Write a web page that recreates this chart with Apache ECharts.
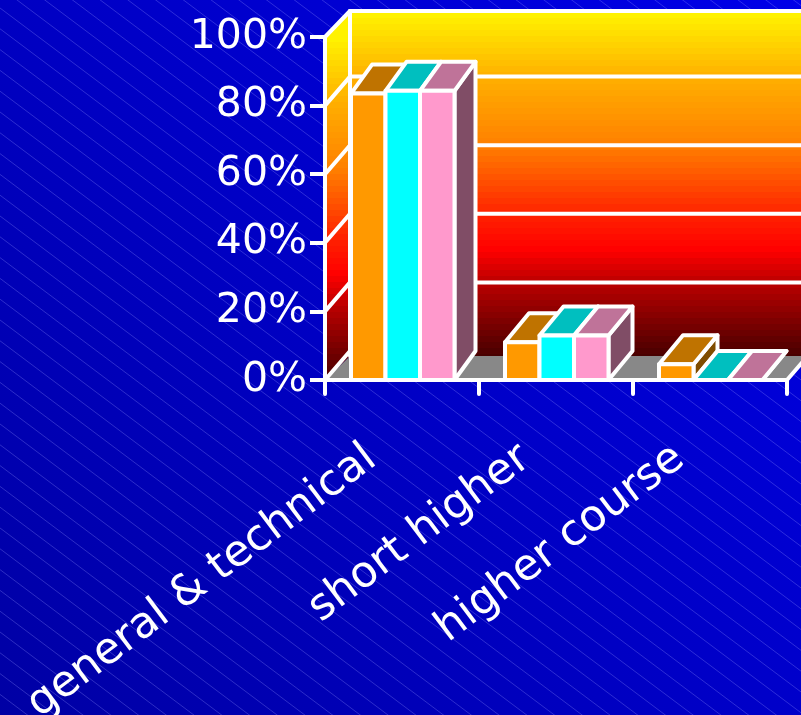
<!DOCTYPE html>
<html><head><meta charset="utf-8">
<style>html,body{margin:0;padding:0;background:#0000c0}#c{width:801px;height:715px}</style>
<script src="https://cdn.jsdelivr.net/npm/echarts@6/dist/echarts.min.js"></script>
</head><body><div id="c"></div>
<script>
const categories = ['general & technical', 'short higher', 'higher course'];
const tickLabels = ['0%', '20%', '40%', '60%', '80%', '100%'];
const gridValues = [20, 40, 60, 80];
const orangeValues = [83.5, 11, 4.6];
const cyanValues = [84.3, 13, 0];
const pinkValues = [84.3, 13, 0];

const WHITE = '#ffffff';
const LW = 4;
const palette = [
  {front:'#ff9900', top:'#bf7300', side:'#804d00'},
  {front:'#00ffff', top:'#00bfbf', side:'#008080'},
  {front:'#ff99cc', top:'#bf7399', side:'#804d66'}
];
const barDepthX = [21, 24, 24];
const barDepthY = 29, wallDX = 25, wallDY = 24, wallTopDY = 26, gridDY = 29;
const barW = 34.5, groupOff = 26;

// wall gradient, banded like the original
const wallKeys = [[12,[255,245,0]],[77,[255,176,0]],[145,[255,128,0]],[216,[255,32,0]],[250,[255,0,0]],[284,[184,0,0]],[356,[72,0,0]]];
function wallGradient(shift){
  const stops=[]; const y0=12,y1=356,band=6;
  const col=y=>{for(let i=1;i<wallKeys.length;i++){if(y<=wallKeys[i][0]){const a=wallKeys[i-1],b=wallKeys[i],t=(y-a[0])/(b[0]-a[0]);return 'rgb('+a[1].map((v,k)=>Math.round(v+(b[1][k]-v)*t)).join(',')+')';}}return 'rgb(72,0,0)';};
  for(let y=y0;y<y1;y+=band){const c=col(y+band/2);stops.push({offset:(y-y0)/(y1-y0),color:c});stops.push({offset:Math.min(1,(y+band-y0)/(y1-y0)),color:c});}
  return {type:'linear',global:true,x:0,y:y0+shift,x2:0,y2:y1+shift,colorStops:stops};
}
const BACK_WALL = wallGradient(0);
const LEFT_WALL = wallGradient(24);

function poly(points, fill, z2){
  return {type:'polygon',shape:{points},z2:z2||0,style:{fill:fill,stroke:WHITE,lineWidth:LW,lineJoin:'round'}};
}
function seg(a,b,z2){
  return {type:'line',shape:{x1:a[0],y1:a[1],x2:b[0],y2:b[1]},z2:z2||1,style:{stroke:WHITE,lineWidth:LW,lineCap:'round'}};
}

function renderWalls(params, api){
  const O = api.coord([0,0]), bw = api.size([1,0])[0], T = api.coord([0,100]);
  const x0 = O[0]-bw/2, x1 = x0+bw*categories.length, y0=O[1], yT=T[1];
  const ch=[];
  ch.push({type:'polygon',shape:{points:[[x0,y0],[x0+wallDX,y0-wallDY],[x1+wallDX,y0-wallDY],[x1,y0]]},style:{fill:'#888888'}});
  ch.push({type:'polygon',shape:{points:[[x0+wallDX,yT-wallTopDY],[x1+wallDX+40,yT-wallTopDY],[x1+wallDX+40,y0-wallDY],[x0+wallDX,y0-wallDY]]},style:{fill:BACK_WALL}});
  ch.push({type:'polygon',shape:{points:[[x0,yT],[x0+wallDX,yT-wallTopDY],[x0+wallDX,y0-wallDY],[x0,y0]]},style:{fill:LEFT_WALL}});
  gridValues.forEach(v=>{
    const p=api.coord([0,v]); const y=p[1];
    ch.push(seg([x0,y],[x0+wallDX,y-gridDY]));
    ch.push(seg([x0+wallDX,y-gridDY],[x1+wallDX+40,y-gridDY]));
  });
  ch.push(seg([x0,yT],[x0+wallDX,yT-wallTopDY]));
  ch.push(seg([x0+wallDX,yT-wallTopDY],[x1+wallDX+40,yT-wallTopDY]));
  ch.push(seg([x0+wallDX,yT-wallTopDY],[x0+wallDX,y0-wallDY]));
  ch.push(seg([x0,y0],[x0+wallDX,y0-wallDY-5]));
  ch.push(seg([x1,y0],[x1+wallDX,y0-wallDY-5]));
  return {type:'group',children:ch};
}

function barRenderer(slot){
  return function(params, api){
    const idx = api.value(0), v = api.value(1);
    const base = api.coord([idx,0]), top = api.coord([idx,v]);
    const bw = api.size([1,0])[0];
    const xl = base[0]-bw/2+groupOff+slot*barW, xr = xl+barW;
    const yb = base[1], yt = top[1];
    const dx = barDepthX[idx], dy = barDepthY;
    const c = palette[slot];
    return {type:'group',children:[
      poly([[xr,yb],[xr+dx,yb-dy],[xr+dx,yt-dy],[xr,yt]],c.side),
      poly([[xl,yt],[xl+dx,yt-dy],[xr+dx,yt-dy],[xr,yt]],c.top),
      poly([[xl,yb],[xr,yb],[xr,yt],[xl,yt]],c.front)
    ]};
  };
}

// background hatch
const hatch=[];
for(let k=-40;k<40;k++){
  const y=8+k*20.8;
  hatch.push({type:'line',silent:true,z:-10,shape:{x1:0,y1:y,x2:801,y2:y+801*0.75},style:{stroke:'rgba(150,150,255,0.3)',lineWidth:1}});
}

const toData = arr => arr.map((v,i)=>[i,v]);
const chart = echarts.init(document.getElementById('c'),null,{renderer:'canvas'});
chart.setOption({
  animation:false,
  backgroundColor:{type:'linear',x:0,y:1,x2:1,y2:0,colorStops:[{offset:0,color:'#0000a4'},{offset:1,color:'#0000e8'}]},
  graphic:{elements:hatch},
  grid:{left:325,top:37,width:462,height:343,containLabel:false,outerBoundsMode:'none'},
  xAxis:{type:'category',data:categories,z:5,
    axisLine:{lineStyle:{color:WHITE,width:LW}},
    axisTick:{show:true,length:14,lineStyle:{color:WHITE,width:LW,cap:'round'}},
    axisLabel:{interval:0,rotate:37,color:WHITE,fontFamily:'DejaVu Sans',fontSize:43.5,margin:51,padding:[0,38,0,0],hideOverlap:false}
  },
  yAxis:{type:'value',min:0,max:100,interval:20,z:5,
    axisLine:{show:true,lineStyle:{color:WHITE,width:LW}},
    axisTick:{show:true,length:15,lineStyle:{color:WHITE,width:LW}},
    splitLine:{show:false},
    axisLabel:{color:WHITE,fontFamily:'DejaVu Sans',fontSize:41,margin:18,padding:[2,0,0,0],formatter:v=>tickLabels[v/20]}
  },
  series:[
    {type:'custom',name:'walls',clip:false,z:1,silent:true,data:[[0,0]],encode:{x:0,y:1},renderItem:renderWalls},
    {type:'custom',name:'orange',clip:false,z:2,data:toData(orangeValues),encode:{x:0,y:1},renderItem:barRenderer(0)},
    {type:'custom',name:'cyan',clip:false,z:3,data:toData(cyanValues),encode:{x:0,y:1},renderItem:barRenderer(1)},
    {type:'custom',name:'pink',clip:false,z:4,data:toData(pinkValues),encode:{x:0,y:1},renderItem:barRenderer(2)}
  ]
});
</script></body></html>
